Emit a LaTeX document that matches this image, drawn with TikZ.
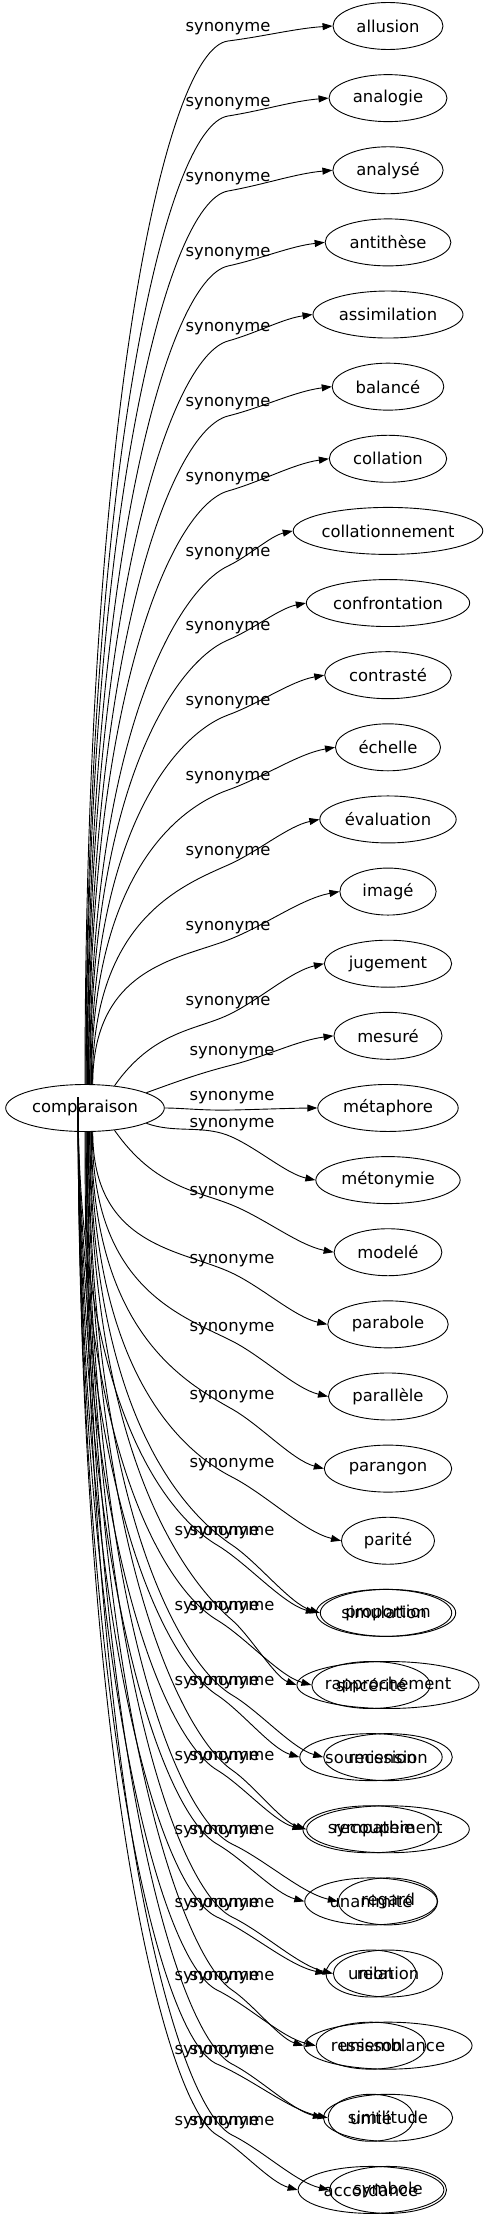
\documentclass[tikz,border=0pt]{standalone}
\usepackage{fontspec}
\setmainfont{DejaVu Sans}
\usetikzlibrary{arrows.meta,shapes.geometric}
\begin{document}
\begin{tikzpicture}[x=1pt,y=1pt,>={Triangle[length=10pt,width=7pt]},
    word/.style={draw,ellipse,line width=0.9pt,inner xsep=0pt,inner ysep=0pt,minimum height=47pt},
    rel/.style={inner sep=0pt},
    syn/.style={->,line width=0.9pt}]
\fontsize{16.4}{19.7}\selectfont
\useasboundingbox (0,0) rectangle (492,-2219);
\pgfmathsetmacro\mw{1.14*width("comparaison")+38}
\node[word,minimum width=\mw pt] (comp) at (85,-1108) {comparaison};
\coordinate (b0) at (78,-1097);
\foreach \w/\ly/\sa/\oa [count=\i] in {allusion/29/90/90, analogie/104/88/90,
    analysé/179/87/90, antithèse/254/85/90, assimilation/329/84/90,
    balancé/404/82/90, collation/479/81/90, collationnement/554/79/90,
    confrontation/628/78/90, contrasté/703/76/90, échelle/778/75/90,
    évaluation/853/73/90, imagé/928/72/90, jugement/1003/37/55,
    mesuré/1053/14/20, métaphore/1098/0/0, métonymie/1125/-14/-20,
    modelé/1193/-37/-55, parabole/1261/-72/-90, parallèle/1329/-73/-90,
    parangon/1397/-75/-90, parité/1465/-76/-90, proportion/1533/-78/-90,
    rapprochement/1608/-79/-90, recension/1683/-81/-90, recoupement/1758/-82/-90,
    regard/1832/-84/-90, relation/1905/-85/-90, ressemblance/1978/-87/-90,
    similitude/2052/-88/-90, symbole/2123/-90/-90}{
  \pgfmathsetmacro\ty{-(26+72.13*(\i-1))}
  \pgfmathsetmacro\mw{1.14*width("\w")+38}
  \pgfmathsetmacro\lx{\i<15 ? 228 : 232}
  \pgfmathsetmacro\yv{-\ly-12}
  \pgfmathsetmacro\xs{85+80*cos(\sa)}
  \pgfmathsetmacro\ys{-1108+24*sin(\sa)}
  \pgfmathsetmacro\xt{388-\mw/2}
  \pgfmathsetmacro\hOut{0.6*abs(\yv-\ys)+0.25*(\lx-\xs)}
  \pgfmathsetmacro\hIn{0.45*(\lx-\xs)}
  \pgfmathsetmacro\ang{0.9*atan2(\ty-\yv,\xt-\lx)}
  \pgfmathsetmacro\angb{\ang+180}
  \pgfmathsetmacro\ange{\ang/2+180}
  \pgfmathsetmacro\hEnd{0.35*(\xt-\lx)}
  \node[word,minimum width=\mw pt] (t\i) at (388,\ty) {\w};
  \node[rel] (l\i) at (\lx,-\ly) {synonyme};
  \coordinate (v\i) at (\lx,\yv);
  \draw[syn] (comp.\sa) .. controls +(\oa:\hOut) and +(\angb:\hIn) .. (v\i)
    .. controls +(\ang:\hEnd) and +(\ange:\hEnd) .. (t\i.west);
}
\foreach \w/\row/\ly/\cx in {simulation/23/1533/384, sincérité/24/1608/371,
    soumission/25/1683/371, sympathie/26/1758/371, unanimité/27/1832/371,
    union/28/1905/371, unisson/29/1978/371, unité/30/2052/371,
    accordance/31/2123/371}{
  \pgfmathsetmacro\ty{-(26+72.13*(\row-1))}
  \pgfmathsetmacro\mw{1.14*width("\w")+38}
  \pgfmathsetmacro\yv{-\ly-12}
  \pgfmathsetmacro\xt{\cx-\mw/2}
  \pgfmathsetmacro\hOut{0.6*abs(\yv+1097)+0.25*(217-78)}
  \pgfmathsetmacro\hIn{0.45*(217-78)}
  \pgfmathsetmacro\ang{0.9*atan2(\ty-\yv,\xt-217)}
  \pgfmathsetmacro\angb{\ang+180}
  \pgfmathsetmacro\ange{\ang/2+180}
  \pgfmathsetmacro\hEnd{0.35*(\xt-217)}
  \node[word,minimum width=\mw pt] (u\row) at (\cx,\ty) {\w};
  \node[rel] (m\row) at (217,-\ly) {synonyme};
  \coordinate (w\row) at (217,\yv);
  \draw[syn] (b0) .. controls +(-90:\hOut) and +(\angb:\hIn) .. (w\row)
    .. controls +(\ang:\hEnd) and +(\ange:\hEnd) .. (u\row.west);
}
\end{tikzpicture}
\end{document}
